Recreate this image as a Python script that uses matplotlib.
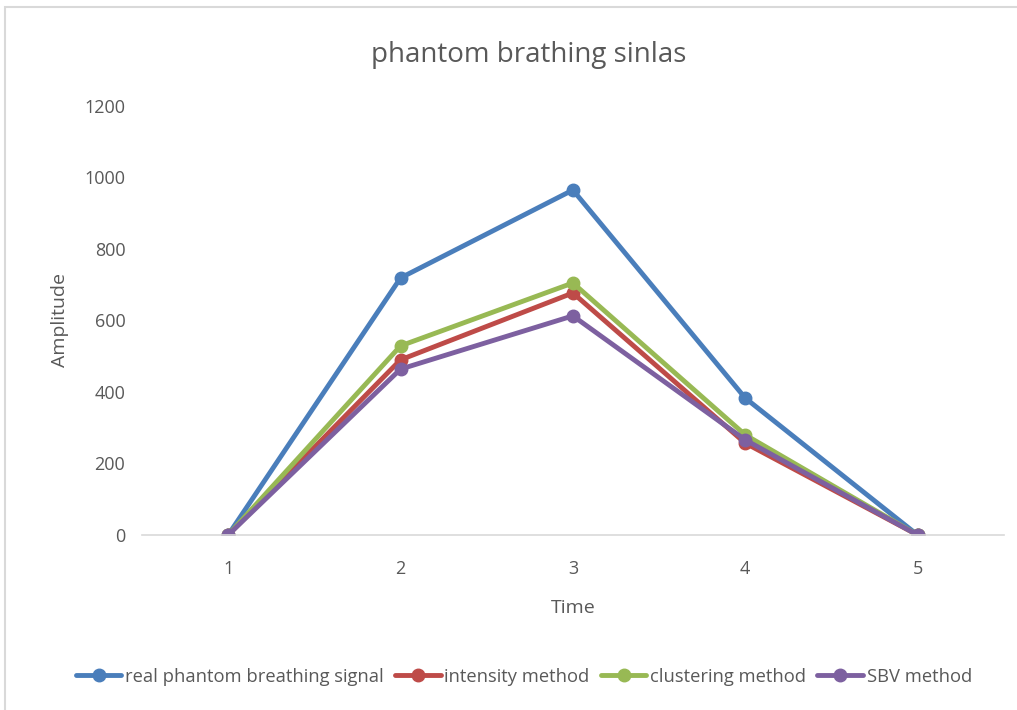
import matplotlib.pyplot as plt
from matplotlib.patches import Rectangle

# values
time_points = [1, 2, 3, 4, 5]
real_signal = [0, 719, 965, 383, 0]
intensity_method = [0, 490, 677, 257, 0]
clustering_method = [0, 529, 705, 280, 0]
sbv_method = [0, 464, 613, 266, 0]

series = [
    ('real phantom breathing signal', real_signal, '#4a7ebb'),
    ('intensity method', intensity_method, '#be4b48'),
    ('clustering method', clustering_method, '#98b954'),
    ('SBV method', sbv_method, '#7d60a0'),
]

plt.rcParams['font.family'] = ['Open Sans', 'DejaVu Sans']
text_color = '#595959'

fig = plt.figure(figsize=(10.17, 7.10), dpi=100)
ax = fig.add_axes([0.1396, 0.2465, 0.8474, 0.6042])

# chart area border (Excel style)
fig.patches.append(Rectangle((0.005, -0.01), 1.0, 1.0, transform=fig.transFigure,
                             fill=False, edgecolor='#d9d9d9', linewidth=1.5))

for label, values, color in series:
    ax.plot(time_points, values, color=color, linewidth=3.5, marker='o',
            markersize=9, label=label, solid_capstyle='round')

ax.set_xlim(0.5, 5.5)
ax.set_ylim(0, 1200)
ax.set_yticks(range(0, 1201, 200))
ax.set_xticks(time_points)

for side in ['top', 'right', 'left']:
    ax.spines[side].set_visible(False)
ax.spines['bottom'].set_color('#d9d9d9')
ax.spines['bottom'].set_linewidth(1.2)
ax.tick_params(length=0, labelsize=13, colors=text_color)
ax.tick_params(axis='x', pad=18)
ax.tick_params(axis='y', pad=12)

ax.set_xlabel('Time', fontsize=14, color=text_color, labelpad=15)
ax.set_ylabel('Amplitude', fontsize=14, color=text_color, labelpad=11)
fig.text(0.52, 0.922, 'phantom brathing sinlas', ha='center', va='center',
         fontsize=20, color=text_color)

fig.legend(loc='center', bbox_to_anchor=(0.515, 0.047), ncol=4, frameon=False,
           fontsize=13.2, labelcolor=text_color, handlelength=2.5,
           handletextpad=0.2, columnspacing=0.6)

fig.savefig('out.png', dpi=100, facecolor='white')
